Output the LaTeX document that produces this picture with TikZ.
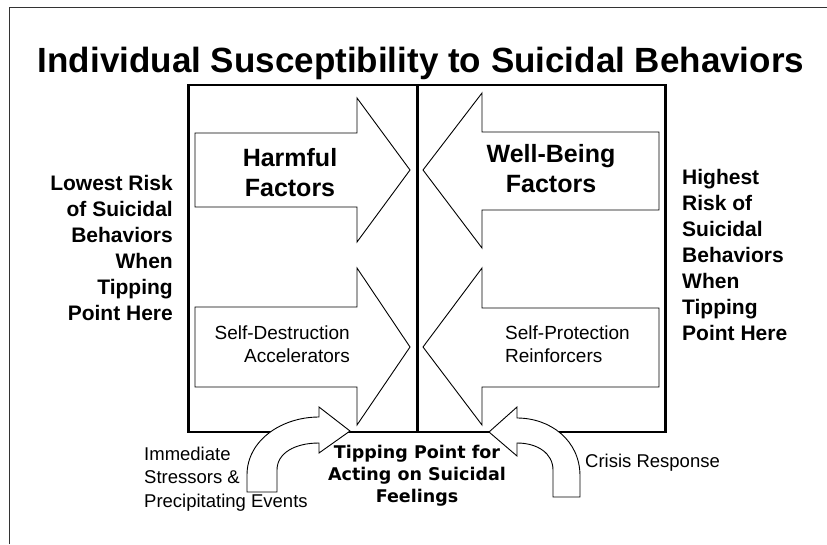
\documentclass[tikz,border=0pt]{standalone}
\usepackage{fontspec}
\setmainfont{Liberation Sans}
\newfontfamily\tipfont{DejaVu Sans}

\tikzset{
  blockarrow/.style={draw=black, fill=white, line width=0.9pt, line join=miter},
  boxline/.style={line width=1.4pt},
  divider/.style={line width=3pt},
  sidetext/.style={font=\bfseries\fontsize{21}{26}\selectfont, inner sep=0pt},
  factortext/.style={font=\bfseries\fontsize{25}{30}\selectfont, align=center, inner sep=0pt},
  innertext/.style={font=\fontsize{19}{23}\selectfont, inner sep=0pt},
  outtext/.style={font=\fontsize{18.5}{23.5}\selectfont, inner sep=0pt}
}

\begin{document}
\begin{tikzpicture}[x=1pt, y=-1pt]
    \useasboundingbox (0,0) rectangle (827,544);

    % outer frame (open to the right and below)
    \draw[line width=1pt, black!80] (9,544) -- (9,7) -- (827,7);

    % title
    \node[font=\bfseries\fontsize{35}{40}\selectfont, anchor=base] (title) at (421,72)
        {Individual Susceptibility to Suicidal Behaviors};

    % the scale box
    \draw[boxline] (188,85) -- (665,85);
    \draw[boxline] (188,432) -- (665,432);
    \draw[divider] (188,84) -- (188,433);
    \draw[divider] (417,84) -- (417,433);
    \draw[divider] (665,84) -- (665,433);

    % big arrows pushing on the tipping point
    \draw[blockarrow] (195,133) -- (357,133) -- (357,98) -- (410,170) -- (357,242)
        -- (357,207) -- (195,207) -- cycle;
    \draw[blockarrow] (659,132) -- (482,132) -- (482,93) -- (423,170) -- (482,248)
        -- (482,210) -- (659,210) -- cycle;
    \draw[blockarrow] (195,307) -- (357,307) -- (357,268) -- (410,347) -- (357,425)
        -- (357,387) -- (195,387) -- cycle;
    \draw[blockarrow] (659,308) -- (482,308) -- (482,268) -- (423,347) -- (482,425)
        -- (482,387) -- (659,387) -- cycle;

    % curved arrows from below
    \draw[blockarrow] (247,492) -- (247,475) .. controls (247,440) and (282,417) .. (319,417)
        -- (319,407) -- (350,431) -- (319,453) -- (319,443)
        .. controls (295,443) and (277,453) .. (277,470) -- (277,492) -- cycle;
    \draw[blockarrow] (580,497) -- (580,476) .. controls (580,440) and (550,418) .. (517,418)
        -- (517,407) -- (489,432) -- (517,456) -- (517,443)
        .. controls (537,443) and (553,453) .. (553,470) -- (553,497) -- cycle;

    % labels
    \node[factortext] (harmful) at (290,173) {Harmful\\Factors};
    \node[factortext] (wellbeing) at (551,169) {Well-Being\\Factors};
    \node[innertext, align=right, anchor=east] (destruct) at (350,344)
        {Self-Destruction\\Accelerators};
    \node[innertext, align=left, anchor=west] (protect) at (505,344)
        {Self-Protection\\Reinforcers};

    \node[sidetext, align=right, anchor=east] (lowest) at (173,248)
        {Lowest Risk\\of Suicidal\\Behaviors\\When\\Tipping\\Point Here};
    \node[sidetext, align=left, anchor=west] (highest) at (682,255)
        {Highest\\Risk of\\Suicidal\\Behaviors\\When\\Tipping\\Point Here};

    \node[outtext, align=left, anchor=west] (stress) at (144,479)
        {Immediate\\Stressors \&\\Precipitating Events};
    \node[font=\tipfont\bfseries\fontsize{17.5}{22}\selectfont, align=center, inner sep=0pt]
        (tipping) at (417,476) {Tipping Point for\\Acting on Suicidal\\Feelings};
    \node[outtext, anchor=west] (crisis) at (585,463) {Crisis Response};
  \end{tikzpicture}
\end{document}
